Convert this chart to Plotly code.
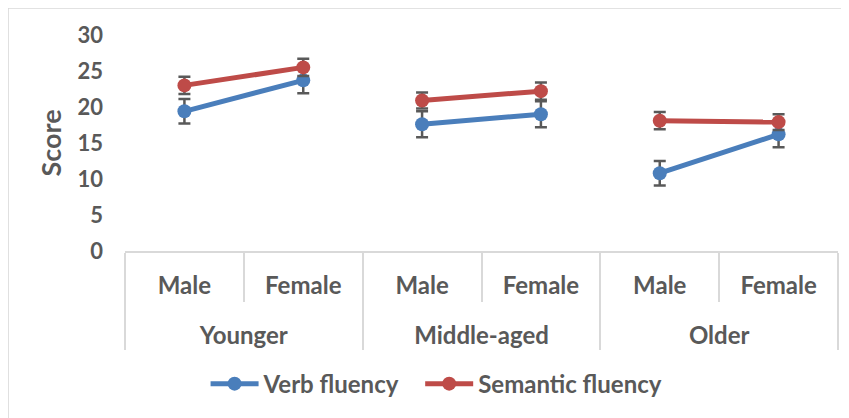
import plotly.graph_objects as go

groups = ["Younger", "Younger", "Middle-aged", "Middle-aged", "Older", "Older"]
sexes = ["Male", "Female", "Male", "Female", "Male", "Female"]

verb = [19.4, 23.7, 17.6, 19.0, 10.8, 16.2]
verb_err = [1.7, 1.8, 1.8, 1.8, 1.7, 1.8]
semantic = [23.0, 25.5, 20.9, 22.2, 18.1, 17.9]
semantic_err = [1.2, 1.2, 1.1, 1.2, 1.2, 1.1]

y_ticks = [0, 5, 10, 15, 20, 25, 30]

BLUE = "#4A7EBB"
RED = "#BE4B48"
TXT = "#595959"
GRID = "#D9D9D9"
FONT = "Lato, 'Open Sans', sans-serif"

# second-level labels pushed one line down (Excel-like table layout)
group_labels = ["<br>" + g for g in groups]

fig = go.Figure()
series = [("Verb fluency", verb, verb_err, BLUE, "legend"),
          ("Semantic fluency", semantic, semantic_err, RED, "legend2")]
for name, vals, errs, col, leg in series:
    for gi in range(0, len(groups), 2):
        sl = slice(gi, gi + 2)
        fig.add_trace(go.Scatter(
            x=[group_labels[sl], sexes[sl]], y=vals[sl], name=name, legendgroup=name,
            legend=leg, showlegend=(gi == 0), mode="lines+markers",
            line=dict(color=col, width=5), marker=dict(color=col, size=14),
            error_y=dict(type="data", array=errs[sl], color=TXT, thickness=2.5, width=6),
        ))

legend_common = dict(orientation="h", xanchor="left", y=-0.616, yanchor="middle",
                     font=dict(size=24, color=TXT, family=FONT, weight="bold"),
                     itemwidth=48, bgcolor="rgba(0,0,0,0)")

fig.update_layout(
    width=841, height=410,
    margin=dict(l=117, r=11, t=27, b=167, autoexpand=False),
    paper_bgcolor="white", plot_bgcolor="white",
    font=dict(family=FONT, size=24, color=TXT, weight="bold"),
    showlegend=True,
    legend=dict(x=0.113, **legend_common),
    legend2=dict(x=0.414, **legend_common),
    xaxis=dict(
        type="multicategory", range=[-0.5, 5.5], automargin=False,
        showline=True, linecolor=GRID, linewidth=1.5,
        showgrid=False, zeroline=False,
        tickson="boundaries", ticks="outside", ticklen=49, tickcolor=GRID, tickwidth=1.5,
        showdividers=True, dividercolor=GRID, dividerwidth=1.5,
        ticklabelstandoff=12,
        tickfont=dict(size=24, color=TXT, family=FONT, weight="bold"),
    ),
    yaxis=dict(
        range=[0, 30], tickvals=y_ticks, showgrid=False, zeroline=False, automargin=False,
        showline=False, ticks="", ticklabelstandoff=21,
        tickfont=dict(size=22, color=TXT, family=FONT, weight="bold"),
        title=dict(text="Score", font=dict(size=27, color=TXT, family=FONT, weight="bold"), standoff=8),
    ),
    shapes=[dict(type="rect", xref="paper", yref="paper",
                 x0=-0.164, x1=1.05, y0=-0.85, y1=1.125,
                 line=dict(color=GRID, width=1.5), fillcolor="rgba(0,0,0,0)", layer="below")],
)

fig.write_html("out.html")
